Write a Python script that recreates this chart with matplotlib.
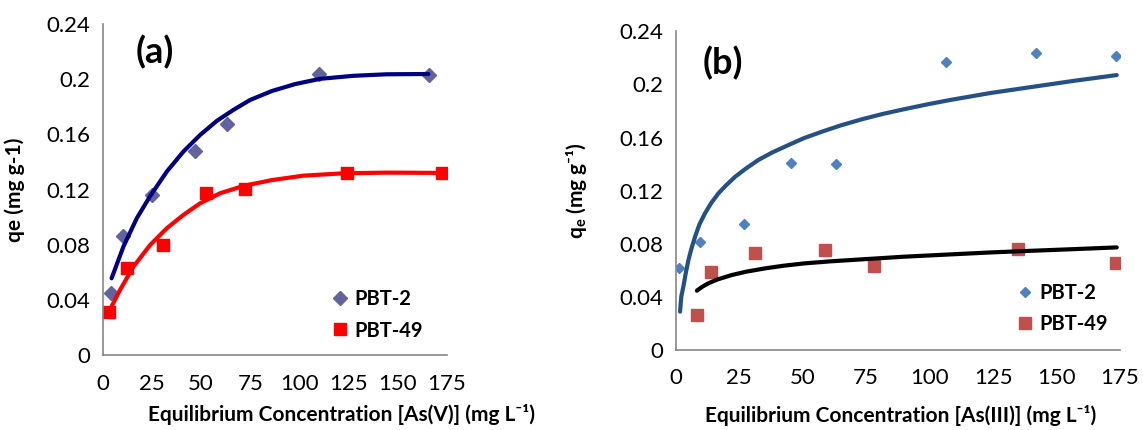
import matplotlib
matplotlib.use('Agg')
import matplotlib.pyplot as plt

plt.rcParams['font.family'] = ['Lato', 'DejaVu Sans']
plt.rcParams['mathtext.fontset'] = 'custom'
plt.rcParams['mathtext.rm'] = 'Lato:bold'
plt.rcParams['mathtext.bf'] = 'Lato:bold'

# ---- panel (a): As(V) ----
a_x_pbt2 = [4.2, 10.5, 24.9, 46.9, 63.1, 110.2, 166.1]
a_y_pbt2 = [0.045, 0.0864, 0.116, 0.148, 0.1674, 0.2035, 0.203]
a_x_pbt49 = [3.2, 12.5, 30.8, 52.5, 72.4, 124.4, 172.7]
a_y_pbt49 = [0.0312, 0.063, 0.0799, 0.1173, 0.1206, 0.1317, 0.1317]

# fitted curves
a_fit_x_pbt2 = [4.5, 10.5, 17.3, 24.1, 32.6, 41.0, 49.5, 58.0, 66.4, 74.9, 86.0,
                97.8, 110.5, 127.5, 144.5, 165.6]
a_fit_y_pbt2 = [0.0558, 0.0787, 0.0992, 0.1152, 0.133, 0.1474, 0.1594, 0.1696,
                0.1775, 0.1847, 0.1912, 0.1962, 0.2000, 0.2022, 0.2033, 0.2035]
a_fit_x_pbt49 = [2.7, 8.8, 15.6, 24.1, 32.6, 41.0, 49.5, 59.7, 71.6, 86.0, 102.0,
                 122.4, 144.5, 171.6]
a_fit_y_pbt49 = [0.0305, 0.0474, 0.0642, 0.0799, 0.092, 0.1016, 0.11, 0.1173,
                 0.1226, 0.1268, 0.1300, 0.1317, 0.1322, 0.1320]

# ---- panel (b): As(III) ----
b_x_pbt2 = [1.3, 9.4, 26.9, 45.4, 63.0, 106.5, 141.8, 173.4]
b_y_pbt2 = [0.0615, 0.0811, 0.0946, 0.141, 0.140, 0.217, 0.2234, 0.2214]
b_x_pbt49 = [8.5, 13.8, 31.2, 58.8, 78.1, 134.9, 173.4]
b_y_pbt49 = [0.0264, 0.059, 0.0733, 0.0753, 0.0635, 0.0758, 0.0653]

b_fit_x_pbt2 = [1.7, 2.2, 3.0, 4.0, 5.0, 6.2, 7.6, 9.3, 11.5, 14.0, 16.8, 19.8,
                23.4, 27.5, 32.5, 38.0, 44.4, 50.5, 57.5, 65.0, 73.3, 81.5, 90.0,
                99.0, 108.0, 124.0, 140.8, 157.0, 173.7]
b_fit_y_pbt2 = [0.0289, 0.0405, 0.0477, 0.0585, 0.0678, 0.0765, 0.0853, 0.0945,
                0.1029, 0.1108, 0.118, 0.1240, 0.1305, 0.1365, 0.1431, 0.1488,
                0.1544, 0.1596, 0.1644, 0.1692, 0.1738, 0.1778, 0.1814, 0.1850,
                0.1883, 0.1936, 0.1983, 0.2028, 0.2071]
b_fit_x_pbt49 = [8.3, 10.5, 12.8, 16.5, 22.1, 28.0, 35.2, 42.5, 50.9, 61.0, 73.3,
                 90.0, 108.0, 124.0, 140.8, 157.0, 173.7]
b_fit_y_pbt49 = [0.0447, 0.0477, 0.0502, 0.0532, 0.0565, 0.0591, 0.0615, 0.0635,
                 0.0653, 0.0668, 0.0683, 0.0703, 0.072, 0.0735, 0.0748, 0.076,
                 0.0773]

x_ticks = [0, 25, 50, 75, 100, 125, 150, 175]
y_ticks = [0, 0.04, 0.08, 0.12, 0.16, 0.2, 0.24]
y_tick_labels = ['0', '0.04', '0.08', '0.12', '0.16', '0.2', '0.24']

fig = plt.figure(figsize=(11.43, 4.3), dpi=100)
ax1 = fig.add_axes([0.0899, 0.1733, 0.301, 0.772])
ax2 = fig.add_axes([0.5912, 0.186, 0.3887, 0.741])

label_size = 15


def style_axes(ax):
    ax.set_xlim(0, 175)
    ax.set_ylim(0, 0.24)
    ax.set_xticks(x_ticks)
    ax.set_yticks(y_ticks)
    ax.set_yticklabels(y_tick_labels)
    for s in ['top', 'right']:
        ax.spines[s].set_visible(False)
    for s in ['left', 'bottom']:
        ax.spines[s].set_color('#868686')
        ax.spines[s].set_linewidth(1.2)
    ax.tick_params(axis='both', length=0, labelsize=16)
    ax.tick_params(axis='y', pad=9)
    ax.tick_params(axis='x', pad=13)


# panel (a)
ax1.plot(a_x_pbt2, a_y_pbt2, 'D', color='#62629C', ms=6.8, ls='none', label='PBT-2', zorder=2)
ax1.plot(a_x_pbt49, a_y_pbt49, 's', color='#FF0000', ms=9.0, ls='none', label='PBT-49', zorder=2)
ax1.plot(a_fit_x_pbt2, a_fit_y_pbt2, color='#000080', lw=3.0, solid_capstyle='round',
         solid_joinstyle='round', zorder=3)
ax1.plot(a_fit_x_pbt49, a_fit_y_pbt49, color='#FF0000', lw=3.0, solid_capstyle='round',
         solid_joinstyle='round', zorder=3)
style_axes(ax1)
ax1.set_ylabel('qe (mg g-1)', fontsize=label_size, fontweight='bold')
ax1.yaxis.set_label_coords(-0.226, 0.5)
ax1.set_xlabel('Equilibrium Concentration [As(V)] (mg L\u207b\u00b9)', fontsize=label_size,
               fontweight='bold')
ax1.xaxis.set_label_coords(0.693, -0.147)
ax1.text(0.152, 0.914, '(a)', transform=ax1.transAxes, fontsize=26, fontweight='bold',
         ha='center', va='center')
ax1.legend(loc='center left', bbox_to_anchor=(0.667, 0.122), frameon=False,
           prop={'weight': 'bold', 'size': 14.5}, handlelength=0.8,
           handletextpad=0.3, labelspacing=0.55, borderpad=0, borderaxespad=0)

# panel (b)
ax2.plot(b_x_pbt2, b_y_pbt2, 'D', color='#4F81BD', ms=5.3, ls='none', label='PBT-2', zorder=2)
ax2.plot(b_x_pbt49, b_y_pbt49, 's', color='#C0504D', ms=8.2, ls='none', label='PBT-49', zorder=2)
ax2.plot(b_fit_x_pbt2, b_fit_y_pbt2, color='#245085', lw=3.0, solid_capstyle='round',
         solid_joinstyle='round', zorder=3)
ax2.plot(b_fit_x_pbt49, b_fit_y_pbt49, color='#000000', lw=3.0, solid_capstyle='round',
         solid_joinstyle='round', zorder=3)
style_axes(ax2)
ax2.set_ylabel('q$_{\\mathrm{e}}$ (mg g\u207b\u00b9)', fontsize=label_size, fontweight='bold')
ax2.yaxis.set_label_coords(-0.195, 0.5)
ax2.set_xlabel('Equilibrium Concentration [As(III)] (mg L\u207b\u00b9)', fontsize=label_size,
               fontweight='bold')
ax2.xaxis.set_label_coords(0.507, -0.172)
ax2.text(0.107, 0.902, '(b)', transform=ax2.transAxes, fontsize=26, fontweight='bold',
         ha='center', va='center')
ax2.legend(loc='center left', bbox_to_anchor=(0.768, 0.131), frameon=False,
           prop={'weight': 'bold', 'size': 14.5}, handlelength=0.8,
           handletextpad=0.3, labelspacing=0.55, borderpad=0, borderaxespad=0)

plt.savefig('out.png', dpi=100)
